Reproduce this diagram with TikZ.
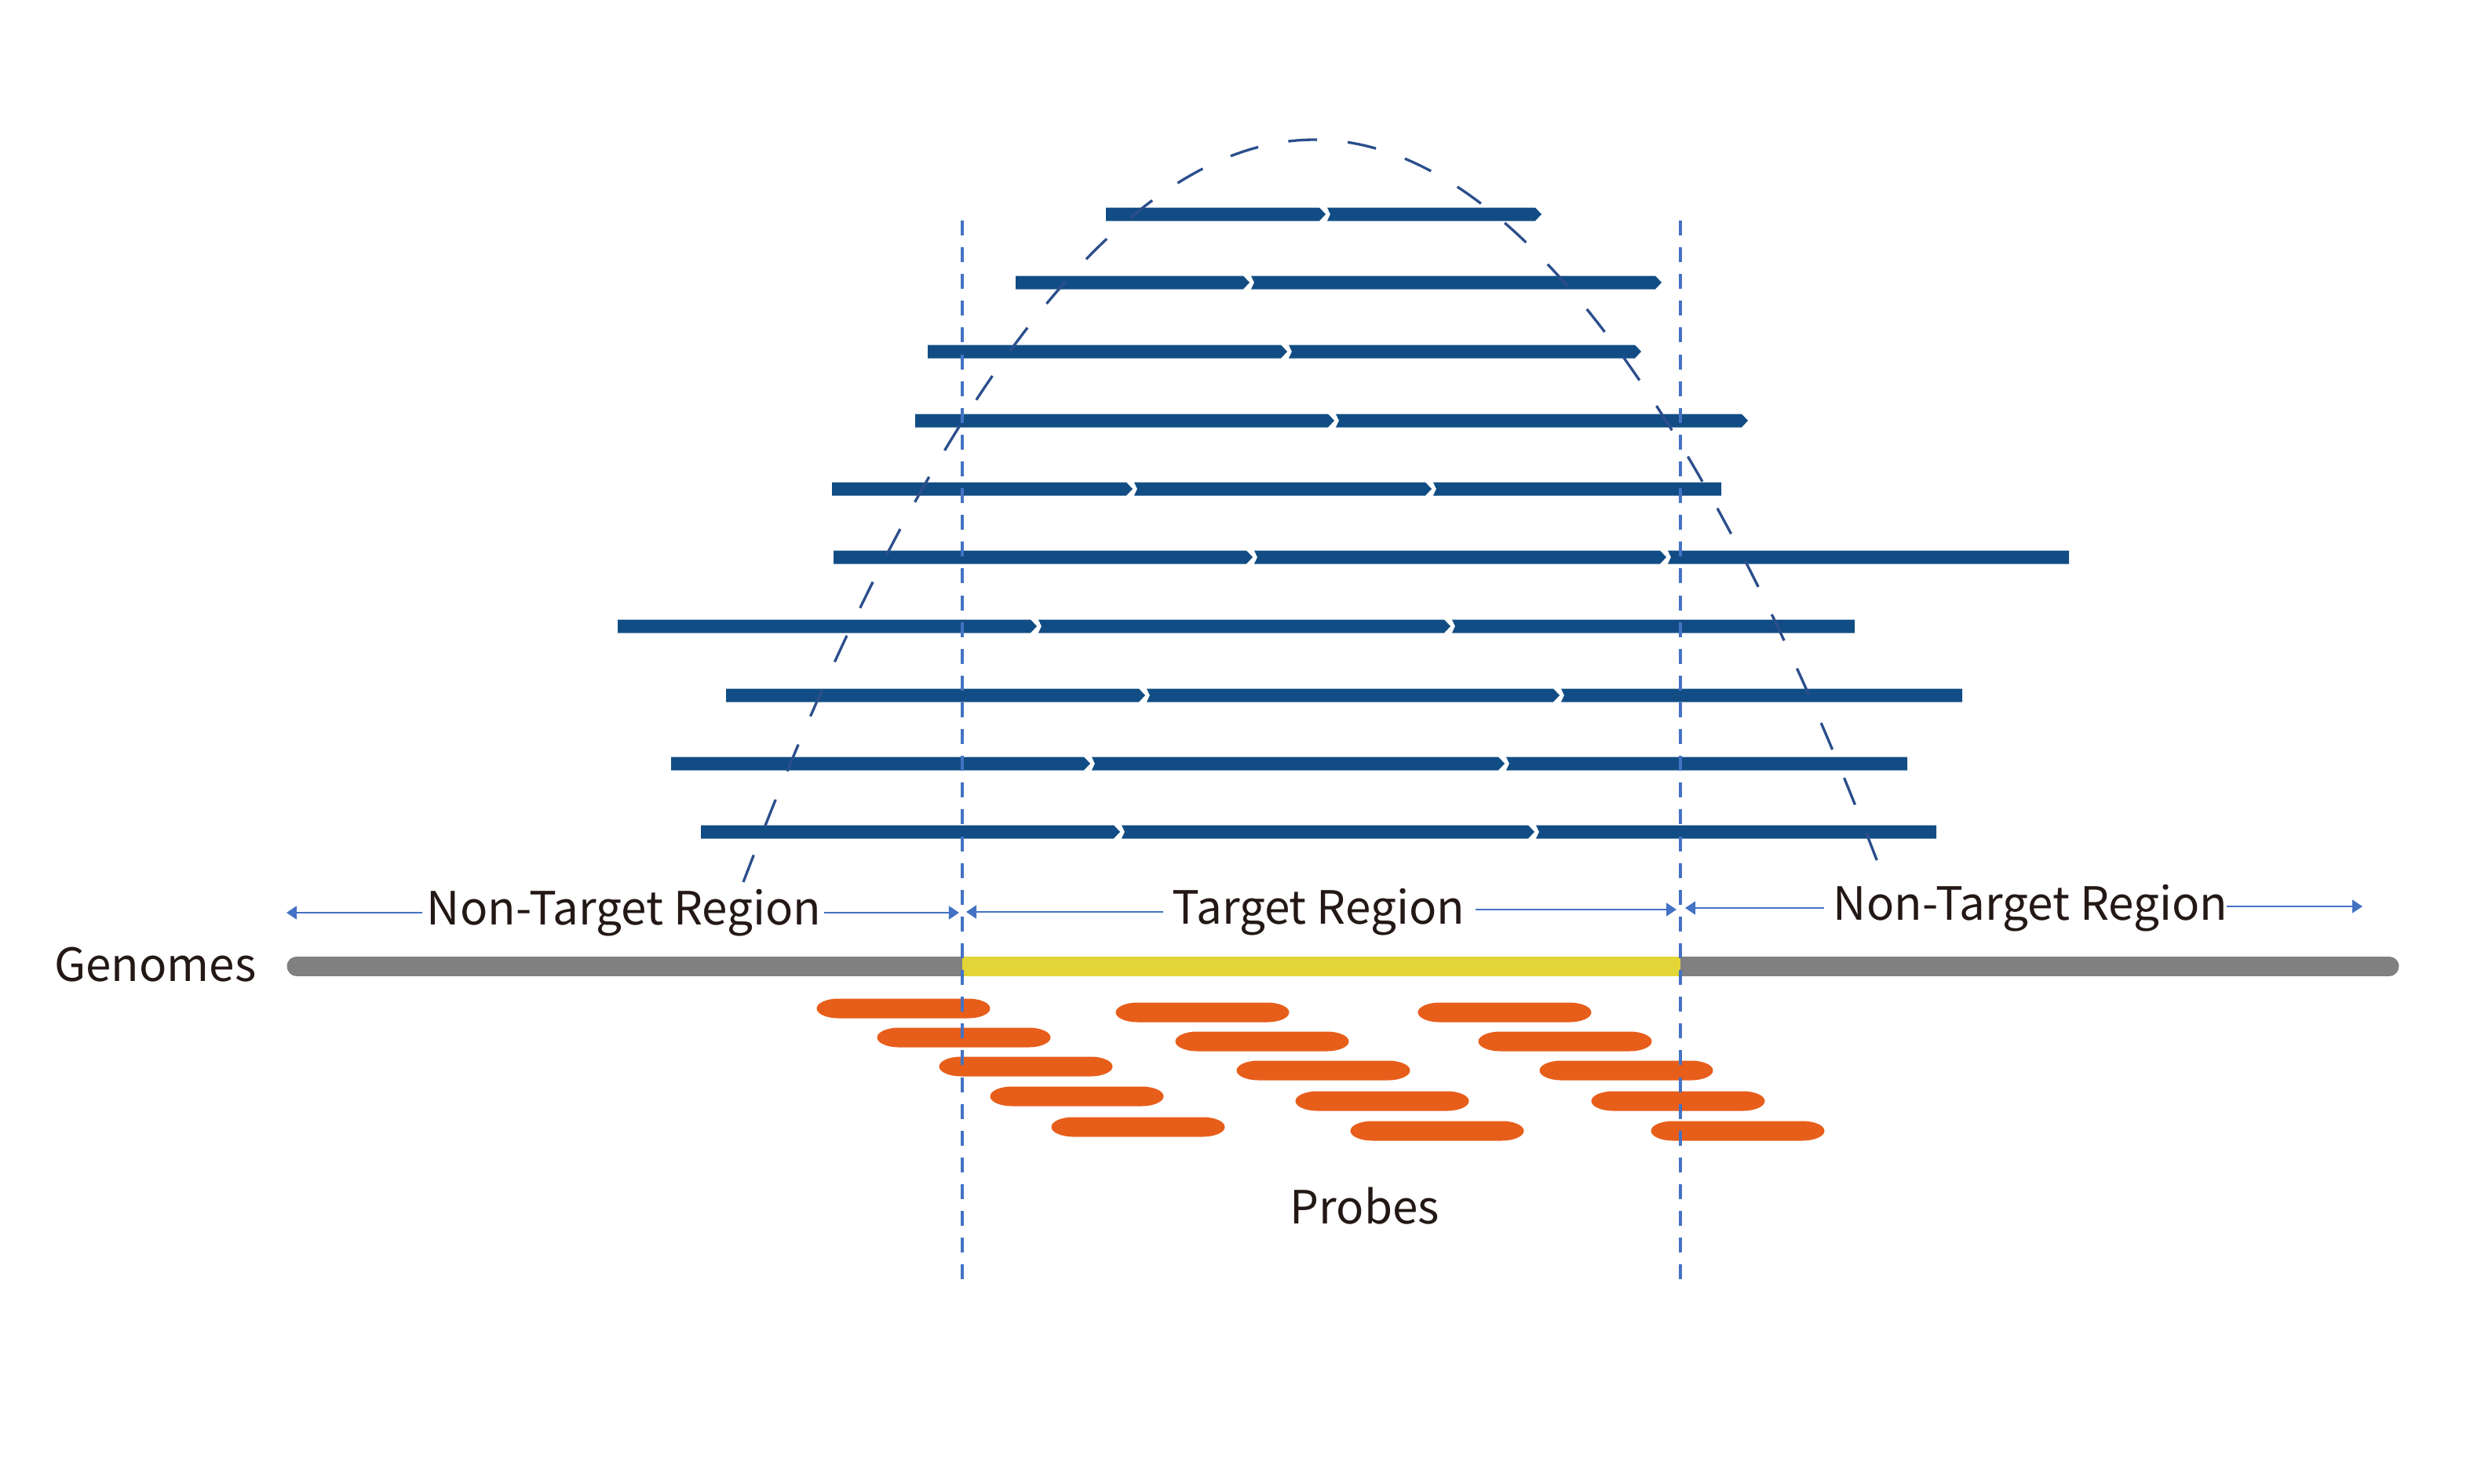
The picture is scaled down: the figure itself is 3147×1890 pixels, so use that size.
\documentclass[tikz,border=0pt]{standalone}
\usepackage{fontspec}
\setmainfont{Noto Sans CJK SC}
\usetikzlibrary{arrows.meta}
\definecolor{readblue}{RGB}{17,77,132}
\definecolor{guide}{RGB}{68,114,196}
\definecolor{curveblue}{RGB}{43,78,140}
\definecolor{genegray}{RGB}{128,128,128}
\definecolor{targetyellow}{RGB}{227,213,55}
\definecolor{probeorange}{RGB}{231,94,27}
\definecolor{txt}{RGB}{35,24,21}
% read segments: #1 = y, #2 = x start, #3 = x end
\newcommand\segSP[3]{\fill[readblue] ({#2},{#1-8.5}) -- ({#3-8},{#1-8.5}) -- ({#3},{#1}) -- ({#3-8},{#1+8.5}) -- ({#2},{#1+8.5}) -- cycle;}
\newcommand\segNP[3]{\fill[readblue] ({#2+2},{#1-8.5}) -- ({#3-8},{#1-8.5}) -- ({#3},{#1}) -- ({#3-8},{#1+8.5}) -- ({#2+2},{#1+8.5}) -- ({#2+6},{#1}) -- cycle;}
\newcommand\segNS[3]{\fill[readblue] ({#2+2},{#1-8.5}) -- ({#3},{#1-8.5}) -- ({#3},{#1+8.5}) -- ({#2+2},{#1+8.5}) -- ({#2+6},{#1}) -- cycle;}
\tikzset{
  probe/.pic={\fill[probeorange] (-82.5,-12.5) -- (82.5,-12.5) .. controls (98,-12.5) and (110.5,-6.9) .. (110.5,0) .. controls (110.5,6.9) and (98,12.5) .. (82.5,12.5) -- (-82.5,12.5) .. controls (-98,12.5) and (-110.5,6.9) .. (-110.5,0) .. controls (-110.5,-6.9) and (-98,-12.5) .. (-82.5,-12.5) -- cycle;},
  lbl/.style={text=txt, font=\fontsize{16.6pt}{20pt}\selectfont, anchor=base, inner sep=0pt},
  regionarrow/.style={draw=guide, line width=0.6pt, -{Triangle[length=3.7pt,width=4.8pt]}},
  guidedash/.style={draw=guide, line width=1.14pt, dash pattern=on 5.4pt off 4.3pt},
  curvedash/.style={draw=curveblue, line width=0.94pt, dash pattern=on 10.5pt off 11.1pt}
}
\begin{document}
\begin{tikzpicture}[x=0.01cm,y=-0.01cm]
\useasboundingbox[fill=white] (0,0) rectangle (3147,1890);
% reads
\segSP{273}{1409}{1689}\segNP{273}{1689}{1964}
\segSP{360}{1294}{1592}\segNP{360}{1592}{2117}
\segSP{448}{1182}{1640}\segNP{448}{1640}{2091}
\segSP{536}{1166}{1700}\segNP{536}{1700}{2227}
\segSP{623}{1060}{1443}\segNP{623}{1443}{1824}\segNS{623}{1824}{2193}
\segSP{710}{1062}{1596}\segNP{710}{1596}{2123}\segNS{710}{2123}{2636}
\segSP{798}{787}{1321}\segNP{798}{1321}{1848}\segNS{798}{1848}{2363}
\segSP{886}{925}{1459}\segNP{886}{1459}{1987}\segNS{886}{1987}{2500}
\segSP{973}{855}{1389}\segNP{973}{1389}{1917}\segNS{973}{1917}{2430}
\segSP{1060}{893}{1427}\segNP{1060}{1427}{1955}\segNS{1060}{1955}{2467}
% coverage curve
\coordinate (cl) at (947,1124);
\coordinate (cp) at (1675,178);
\coordinate (cr) at (2402,1124);
\draw[curvedash] (cl) parabola bend (cp) (cr);
% genome bar
\coordinate (gL) at (378,1231);
\coordinate (gR) at (3044,1231);
\draw[genegray, line width=7.1pt, line cap=round] (gL) -- (gR);
\fill[targetyellow] (1226,1218.5) rectangle (2141,1243.5);
% probes
\foreach \x/\y in {1151/1285, 1228/1322, 1307/1359, 1372/1397, 1450/1436,
                   1532/1290, 1608/1327, 1686/1364, 1761/1403, 1831/1441,
                   1917/1290, 1994/1327, 2072/1364, 2138/1403, 2214/1441}
  \pic at (\x,\y) {probe};
% region boundaries
\coordinate (vLt) at (1226,281);
\coordinate (vLb) at (1226,1630);
\coordinate (vRt) at (2141,281);
\coordinate (vRb) at (2141,1630);
\draw[guidedash] (vLt) -- (vLb);
\draw[guidedash] (vRt) -- (vRb);
% labels
\node[lbl] (genomes) at (198,1250) {Genomes};
\node[lbl] (ntl) at (795,1178) {Non-Target Region};
\node[lbl] (tr) at (1680,1177) {Target Region};
\node[lbl] (ntr) at (2587,1172) {Non-Target Region};
\node[lbl] (probes) at (1739,1559) {Probes};
% region arrows
\coordinate (a1s) at (538,1163);  \coordinate (a1e) at (365,1163);
\coordinate (a2s) at (1050,1163); \coordinate (a2e) at (1222,1163);
\coordinate (a3s) at (1482,1162); \coordinate (a3e) at (1231,1162);
\coordinate (a4s) at (1880,1159); \coordinate (a4e) at (2136,1159);
\coordinate (a5s) at (2324,1157); \coordinate (a5e) at (2147,1157);
\coordinate (a6s) at (2837,1155); \coordinate (a6e) at (3010,1155);
\draw[regionarrow] (a1s) -- (a1e);
\draw[regionarrow] (a2s) -- (a2e);
\draw[regionarrow] (a3s) -- (a3e);
\draw[regionarrow] (a4s) -- (a4e);
\draw[regionarrow] (a5s) -- (a5e);
\draw[regionarrow] (a6s) -- (a6e);
\end{tikzpicture}
\end{document}
